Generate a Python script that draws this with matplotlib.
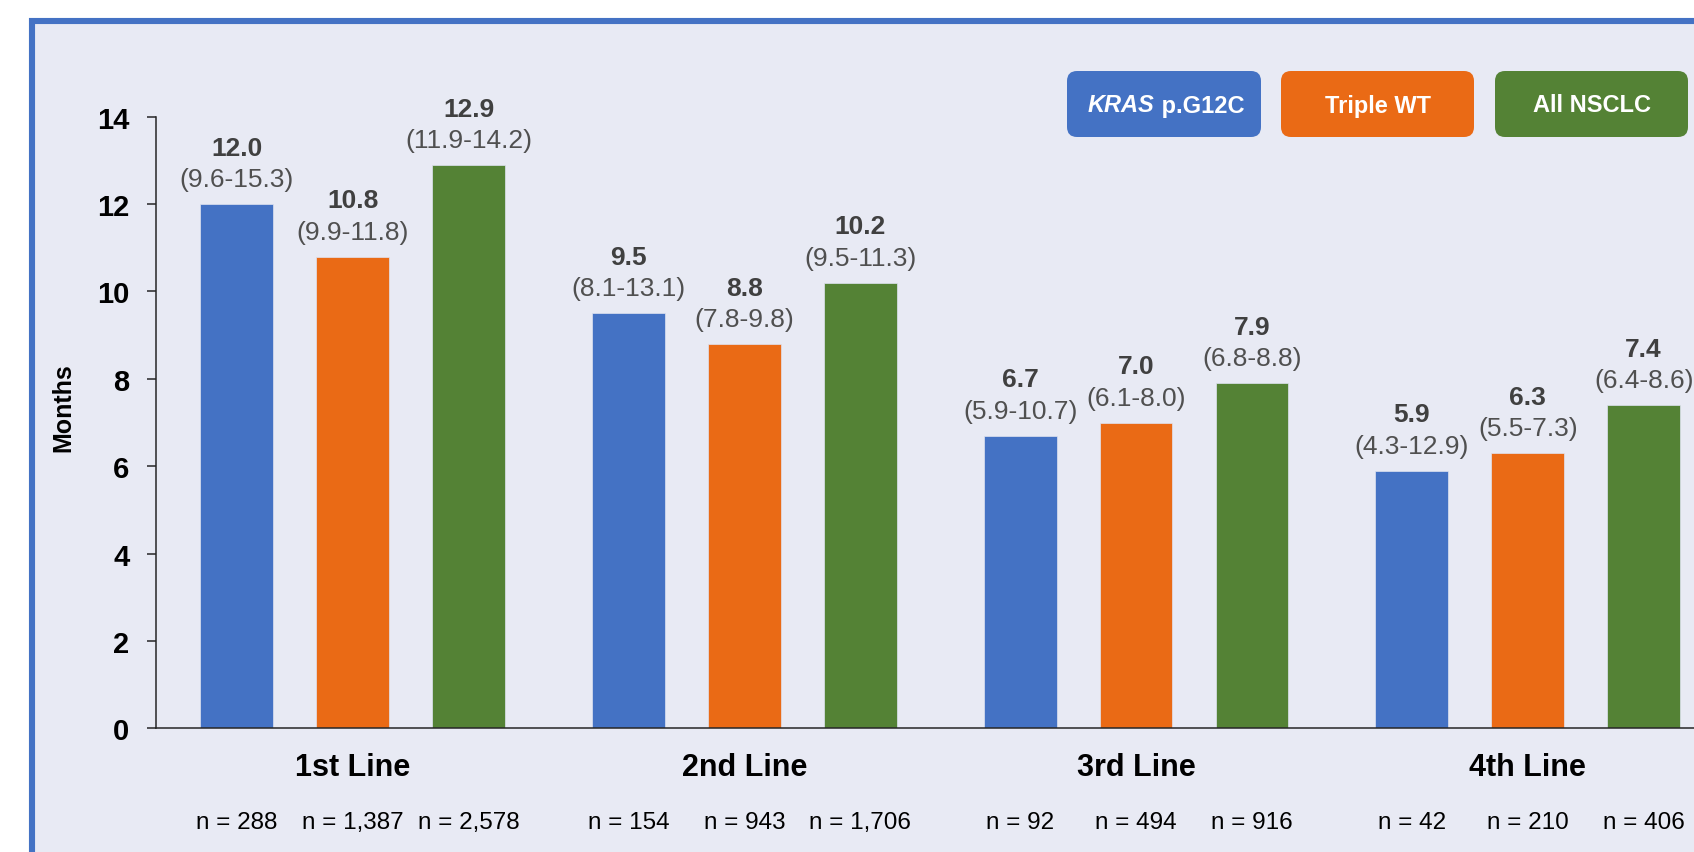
import matplotlib
matplotlib.use("Agg")
import matplotlib.pyplot as plt
from matplotlib.patches import Rectangle, FancyBboxPatch
from matplotlib.transforms import IdentityTransform

plt.rcParams['font.family'] = ['Liberation Sans', 'DejaVu Sans']

# ---------------- data ----------------
lines = ['1st Line', '2nd Line', '3rd Line', '4th Line']
series = ['KRAS p.G12C', 'Triple WT', 'All NSCLC']
kras = [12.0, 9.5, 6.7, 5.9]
triple_wt = [10.8, 8.8, 7.0, 6.3]
all_nsclc = [12.9, 10.2, 7.9, 7.4]
kras_ci = ['(9.6-15.3)', '(8.1-13.1)', '(5.9-10.7)', '(4.3-12.9)']
triple_wt_ci = ['(9.9-11.8)', '(7.8-9.8)', '(6.1-8.0)', '(5.5-7.3)']
all_nsclc_ci = ['(11.9-14.2)', '(9.5-11.3)', '(6.8-8.8)', '(6.4-8.6)']
kras_n = ['288', '154', '92', '42']
triple_wt_n = ['1,387', '943', '494', '210']
all_nsclc_n = ['2,578', '1,706', '916', '406']

colors = ['#4472C4', '#EA6A15', '#548235']
bg = '#E8EAF4'
W, H = 1694, 853

fig = plt.figure(figsize=(W / 100, H / 100), dpi=100, facecolor='white')

# frame around the panel (left and top edges visible)
frame = Rectangle((32, -60), 2000, H - 22 + 60, transform=IdentityTransform(),
                  facecolor=bg, edgecolor='#4472C4', linewidth=4.4, zorder=-5)
fig.add_artist(frame)

ax = fig.add_axes([156 / W, 0.1450, 1 - 156 / W, 0.7170])
ax.set_facecolor('none')

offs = [-0.296, 0.0, 0.296]
bw = 0.186
vals = [kras, triple_wt, all_nsclc]
cis = [kras_ci, triple_wt_ci, all_nsclc_ci]
ns = [kras_n, triple_wt_n, all_nsclc_n]

for s in range(3):
    xs = [i + offs[s] for i in range(len(lines))]
    ax.bar(xs, vals[s], width=bw, color=colors[s], edgecolor='#dfe3f0',
           linewidth=0.5, zorder=2)
    for x, v, ci, n in zip(xs, vals[s], cis[s], ns[s]):
        ax.annotate(f'{v:.1f}', (x, v), xytext=(0, 40.5), textcoords='offset points',
                    ha='center', va='center', fontsize=19, fontweight='bold',
                    color='#404040', annotation_clip=False)
        ax.annotate(ci, (x, v), xytext=(0, 18), textcoords='offset points',
                    ha='center', va='center', fontsize=19, color='#505050',
                    annotation_clip=False)
        ax.text(x, -0.1527, f'n = {n}', transform=ax.get_xaxis_transform(),
                ha='center', va='center', fontsize=17.5, color='black')

for i, lab in enumerate(lines):
    ax.text(i, -0.0625, lab, transform=ax.get_xaxis_transform(), ha='center',
            va='center', fontsize=22, fontweight='bold', color='black')

ax.set_xlim(-0.502, 3.4245)
ax.set_ylim(0, 14)
ax.set_yticks(range(0, 15, 2))
ax.set_xticks([])
for lbl in ax.get_yticklabels():
    lbl.set_fontweight('bold')
ax.tick_params(axis='y', direction='out', length=6.5, width=1.1, pad=12.5,
               labelsize=21, colors='#262626', labelcolor='black')
ax.spines['top'].set_visible(False)
ax.spines['right'].set_visible(False)
for sp in ['left', 'bottom']:
    ax.spines[sp].set_color('#262626')
    ax.spines[sp].set_linewidth(1.1)

fig.text(63 / W, 1 - 408 / H, 'Months', rotation=90, ha='center', va='center',
         fontsize=18, fontweight='bold', color='black')

# legend boxes
boxes = [(1067, 1261), (1281, 1474), (1495, 1688)]
for (x0, x1), c in zip(boxes, colors):
    p = FancyBboxPatch((x0, H - 138), x1 - x0, 66,
                       boxstyle='round,pad=0,rounding_size=10',
                       transform=IdentityTransform(), facecolor=c,
                       edgecolor='none', zorder=5)
    fig.add_artist(p)

ty = 1 - 106 / H
t1 = fig.text(1088 / W, ty, 'KRAS', ha='left', va='center', fontsize=17,
              fontweight='bold', fontstyle='italic', color='white', zorder=6)
t2 = plt.annotate(' p.G12C', xy=(1, 0), xycoords=t1, ha='left', va='bottom',
                  fontsize=17, fontweight='bold', color='white', zorder=6)
t2.remove()
fig.add_artist(t2)
fig.text((boxes[1][0] + boxes[1][1]) / 2 / W, ty, series[1], ha='center',
         va='center', fontsize=17, fontweight='bold', color='white', zorder=6)
fig.text((boxes[2][0] + boxes[2][1]) / 2 / W, ty, series[2], ha='center',
         va='center', fontsize=17, fontweight='bold', color='white', zorder=6)

fig.savefig('out.png', dpi=100, facecolor='white')
